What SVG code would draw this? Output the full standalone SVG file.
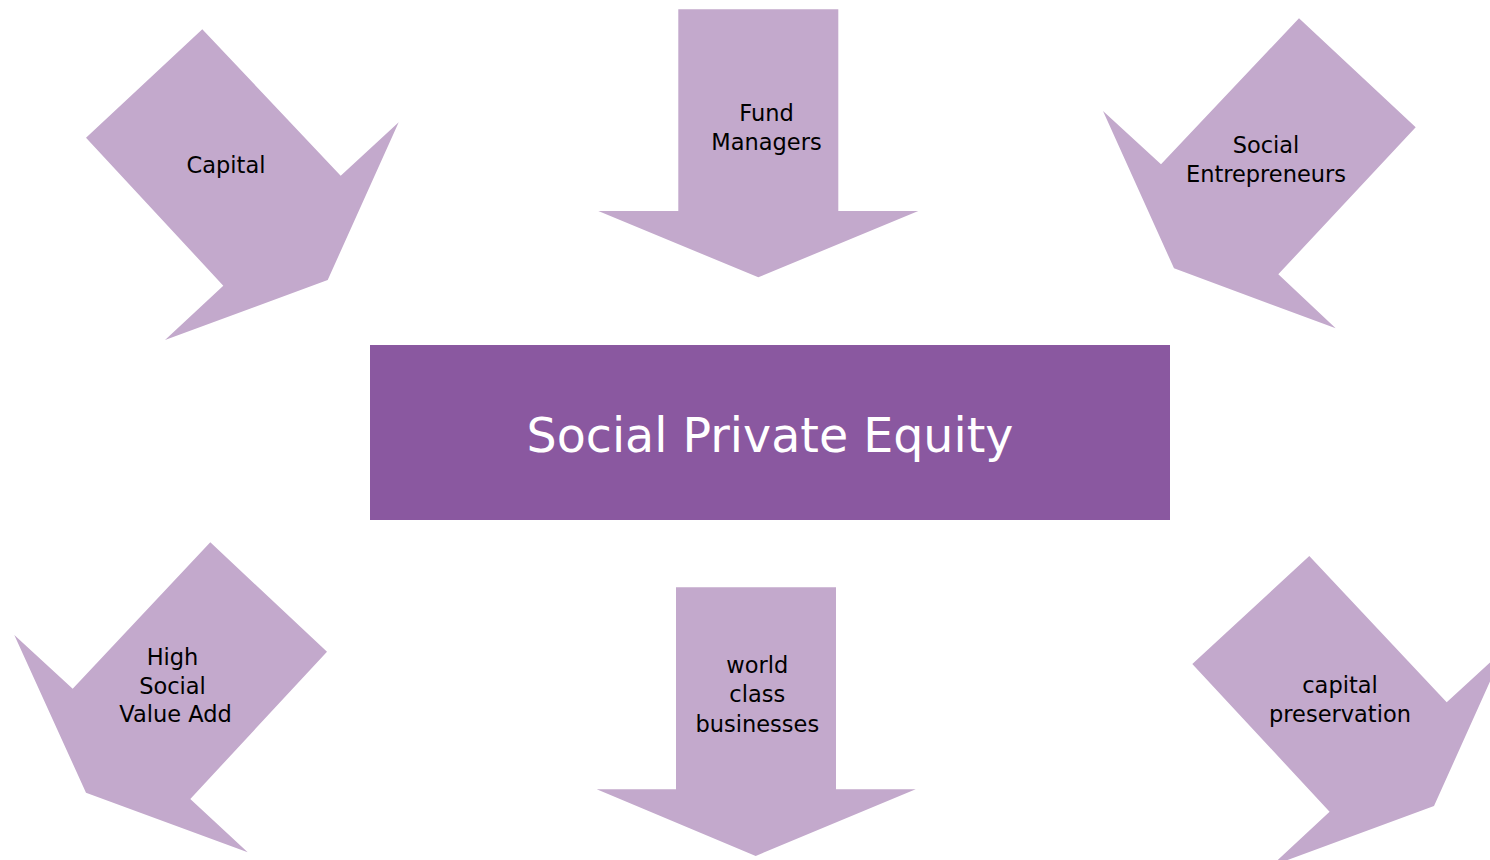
<svg xmlns="http://www.w3.org/2000/svg" width="1490" height="860" viewBox="0 0 1490 860">
<style>
.arrow{fill:#C3A9CC;stroke:none}
.lbl{font-family:"DejaVu Sans","Liberation Sans",sans-serif;font-size:22.5px;fill:#000;text-anchor:middle}
.title{font-family:"DejaVu Sans","Liberation Sans",sans-serif;font-size:47.5px;fill:#fff;text-anchor:middle}
</style>
<rect width="1490" height="860" fill="#fff"/>
<g id="connectors"></g>
<g id="capital">
<polygon class="arrow" points="202.3,29.3 340.7,175.7 398.7,122.3 327.7,280 165,340 223.3,285.7 86,137.7"/>
<text class="lbl" x="226" y="173">Capital</text>
</g>
<g id="fund-managers">
<polygon class="arrow" points="678.3,9.3 838.3,9.3 838.3,211 918.3,211 758.3,277.3 598.3,211 678.3,211"/>
<text class="lbl" x="766.5" y="121">Fund</text>
<text class="lbl" x="766.5" y="150">Managers</text>
</g>
<g id="social-entrepreneurs">
<polygon class="arrow" points="1299,18.3 1415.7,127.3 1278.3,274.3 1335.7,328.3 1174,268.3 1103,111 1161,164.3"/>
<text class="lbl" x="1266" y="153">Social</text>
<text class="lbl" x="1266" y="182">Entrepreneurs</text>
</g>
<g id="social-private-equity">
<rect x="370" y="345" width="800" height="175" fill="#8A58A0"/>
<text class="title" x="770" y="452">Social Private Equity</text>
</g>
<g id="high-social-value-add">
<polygon class="arrow" points="210.3,542.3 327,651.7 190.3,799 247.7,852.3 86,792.7 14.3,635 72.7,688.7"/>
<text class="lbl" x="172.5" y="665">High</text>
<text class="lbl" x="172.5" y="694">Social</text>
<text class="lbl" x="175.5" y="722">Value Add</text>
</g>
<g id="world-class-businesses">
<polygon class="arrow" points="676,587.3 836,587.3 836,789.3 915.7,789.3 755.7,856 596.7,789.3 676,789.3"/>
<text class="lbl" x="757.3" y="673">world</text>
<text class="lbl" x="757.3" y="702">class</text>
<text class="lbl" x="757.3" y="731.5">businesses</text>
</g>
<g id="capital-preservation">
<polygon class="arrow" points="1309.3,556 1446.7,702.3 1504.7,648.9 1434,806 1271.3,866 1329.6,811.7 1192.3,664"/>
<text class="lbl" x="1340" y="693">capital</text>
<text class="lbl" x="1340" y="722">preservation</text>
</g>
</svg>
